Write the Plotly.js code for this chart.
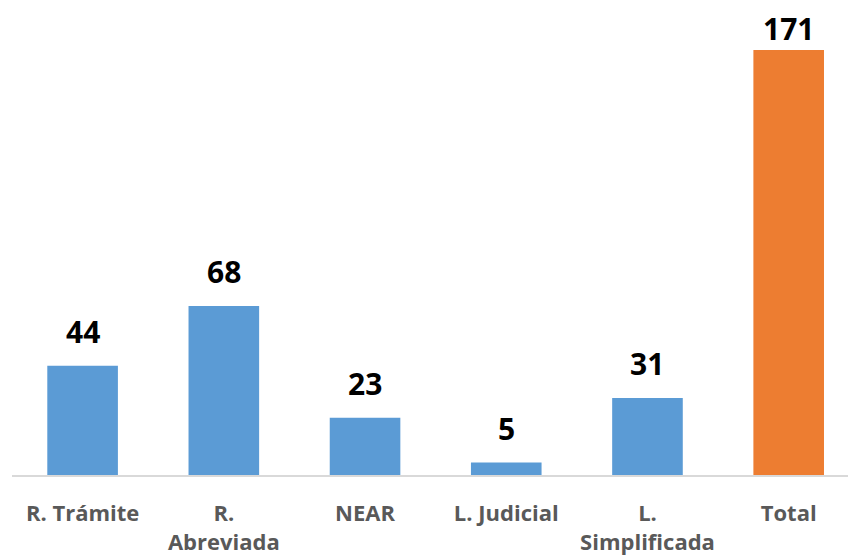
<!DOCTYPE html>
<html>
<head>
<meta charset="utf-8">
<script src="https://cdn.plot.ly/plotly-3.0.1.min.js"></script>
<style>html,body{margin:0;padding:0;background:#fff;}#chart{width:848px;height:555px;}</style>
</head>
<body>
<div id="chart"></div>
<script>
const categories = ["R. Trámite", "R.<br>Abreviada", "NEAR", "L. Judicial", "L.<br>Simplificada", "Total"];
const values = [44, 68, 23, 5, 31, 171];
const barColors = ["#5B9BD5", "#5B9BD5", "#5B9BD5", "#5B9BD5", "#5B9BD5", "#ED7D31"];

const trace = {
  type: "bar",
  x: categories,
  y: values,
  marker: {color: barColors},
  hoverinfo: "none"
};

const maxVal = Math.max(...values);
const annotations = categories.map((c, i) => ({
  x: c, y: values[i], xref: "x", yref: "y",
  text: String(values[i]), showarrow: false,
  yanchor: "bottom", yshift: values[i] === maxVal ? -1 : 12,
  font: {family: "Open Sans", size: 30, color: "#000000", weight: 700}
}));

const layout = {
  width: 848, height: 555,
  margin: {l: 12, r: 0, t: 0, b: 79.5},
  paper_bgcolor: "#ffffff", plot_bgcolor: "#ffffff",
  bargap: 0.5,
  showlegend: false,
  xaxis: {
    type: "category",
    range: [-0.5, 5.42],
    showline: true, linecolor: "#D9D9D9", linewidth: 2,
    showgrid: false, zeroline: false, ticks: "",
    ticklabelstandoff: 18,
    tickfont: {family: "Open Sans", size: 22, color: "#595959", weight: 700},
    fixedrange: true
  },
  yaxis: {
    range: [0, 191.1],
    visible: false, showgrid: false, zeroline: false,
    fixedrange: true
  },
  annotations: annotations
};

Plotly.newPlot("chart", [trace], layout, {displayModeBar: false, staticPlot: true});
</script>
</body>
</html>
